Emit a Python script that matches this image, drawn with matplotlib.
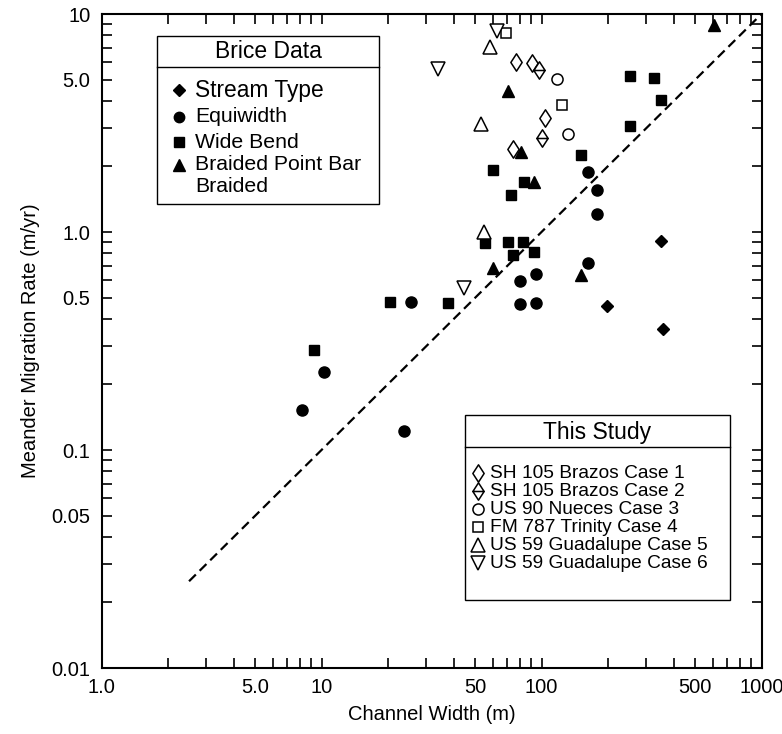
import matplotlib
matplotlib.use("Agg")
import matplotlib.pyplot as plt
from matplotlib.path import Path
from matplotlib.patches import Rectangle
from matplotlib.lines import Line2D
from matplotlib.ticker import FixedLocator, FixedFormatter, NullFormatter

plt.rcParams['font.family'] = ['Liberation Sans', 'DejaVu Sans']

# --- Brice data (filled markers) ---
stream_w = [349, 199, 357]
stream_r = [0.91, 0.458, 0.359]

equi_w = [8.15, 10.3, 23.7, 25.5, 79.9, 94.4, 79.9, 94.4, 179, 163, 163, 179]
equi_r = [0.152, 0.228, 0.122, 0.478, 0.596, 0.642, 0.468, 0.47, 1.21, 0.721, 1.88, 1.56]

wide_w = [9.25, 20.5, 37.6, 55.4, 70.4, 82.4, 74.2, 92.5, 151, 60.2, 83.3, 72.7, 253, 325, 349, 253]
wide_r = [0.288, 0.478, 0.47, 0.891, 0.90, 0.90, 0.784, 0.81, 2.25, 1.92, 1.70, 1.48, 5.2, 5.08, 4.03, 3.06]

braid_w = [60.2, 151, 70.4, 80.7, 92.5, 608]
braid_r = [0.684, 0.635, 4.43, 2.33, 1.70, 8.9]

# --- This study (open markers) ---
case1_w = [76.6, 90.5, 104, 74.2]
case1_r = [6.03, 5.96, 3.33, 2.40]
case2_w = [97.5, 100.5]
case2_r = [5.53, 2.70]
case3_w = [118, 132]
case3_r = [5.04, 2.82]
case4_w = [69, 124]
case4_r = [8.18, 3.83]
case5_w = [58.3, 53.1, 54.8]
case5_r = [7.06, 3.12, 1.0]
case6_w = [62.8, 33.9, 44.4]
case6_r = [8.36, 5.6, 0.553]

line_w = [2.5, 1000]
line_r = [0.025, 10]

brice_labels = ["Stream Type", "Equiwidth", "Wide Bend", "Braided Point Bar", "Braided"]
study_labels = ["SH 105 Brazos Case 1", "SH 105 Brazos Case 2", "US 90 Nueces Case 3",
                "FM 787 Trinity Case 4", "US 59 Guadalupe Case 5", "US 59 Guadalupe Case 6"]

x_ticks = [1, 5, 10, 50, 100, 500, 1000]
x_ticklabels = ["1.0", "5.0", "10", "50", "100", "500", "1000"]
y_ticks = [0.01, 0.05, 0.1, 0.5, 1, 5, 10]
y_ticklabels = ["0.01", "0.05", "0.1", "0.5", "1.0", "5.0", "10"]

# custom thin diamond markers
dia = Path([(0, 1), (0.65, 0), (0, -1), (-0.65, 0), (0, 1)],
           [Path.MOVETO, Path.LINETO, Path.LINETO, Path.LINETO, Path.CLOSEPOLY])
dia_line = Path([(0, 1), (0.65, 0), (0, -1), (-0.65, 0), (0, 1), (-0.65, 0), (0.65, 0)],
                [Path.MOVETO, Path.LINETO, Path.LINETO, Path.LINETO, Path.CLOSEPOLY,
                 Path.MOVETO, Path.LINETO])

W, H = 782, 734
fig = plt.figure(figsize=(W / 100, H / 100), dpi=100)
ax = fig.add_axes([101.5 / W, (H - 668) / H, 660 / W, 654 / H])

filled = dict(ls='none', color='black')
ax.plot(stream_w, stream_r, marker='D', ms=6.3, **filled)
ax.plot(equi_w, equi_r, marker='o', ms=8, **filled)
ax.plot(wide_w, wide_r, marker='s', ms=7.2, **filled)
ax.plot(braid_w, braid_r, marker='^', ms=8.6, **filled)

opn = dict(ls='none', mfc='white', mec='black', mew=1.1)
ax.plot(case1_w, case1_r, marker=dia, ms=12.5, **opn)
ax.plot(case2_w, case2_r, marker=dia_line, ms=12.5, **opn)
ax.plot(case3_w, case3_r, marker='o', ms=8, **opn)
ax.plot(case4_w, case4_r, marker='s', ms=7.8, **opn)
ax.plot(case5_w, case5_r, marker='^', ms=10, **opn)
ax.plot(case6_w, case6_r, marker='v', ms=10, **opn)

# 1:100 reference line
ax.plot(line_w, line_r, color='black', lw=1.6, ls=(0, (4.3, 2.4)))

ax.set_xscale('log')
ax.set_yscale('log')
ax.set_xlim(1, 1000)
ax.set_ylim(0.01, 10)

minor = [m * 10.0 ** e for e in range(-2, 3) for m in range(2, 10)]
ax.xaxis.set_major_locator(FixedLocator(x_ticks))
ax.xaxis.set_major_formatter(FixedFormatter(x_ticklabels))
ax.xaxis.set_minor_locator(FixedLocator([v for v in minor if 1 < v < 1000 and v not in x_ticks]))
ax.xaxis.set_minor_formatter(NullFormatter())
ax.yaxis.set_major_locator(FixedLocator(y_ticks))
ax.yaxis.set_major_formatter(FixedFormatter(y_ticklabels))
ax.yaxis.set_minor_locator(FixedLocator([v for v in minor if 0.01 < v < 10 and v not in y_ticks]))
ax.yaxis.set_minor_formatter(NullFormatter())

ax.tick_params(which='both', direction='in', top=True, right=True, length=7, width=1.2,
               labelsize=14.5)
ax.tick_params(axis='x', pad=7)
ax.tick_params(axis='y', pad=8)
for s in ax.spines.values():
    s.set_linewidth(1.5)

ax.set_xlabel("Channel Width (m)", fontsize=14.5, labelpad=6)
ax.set_ylabel("Meander Migration Rate (m/yr)", fontsize=14.5, labelpad=8)


def fx(x):
    return x / W


def fy(y):
    return 1 - y / H


def legend_box(x0, y0, x1, y1, ysep, title, tx, ty):
    fig.add_artist(Rectangle((fx(x0), fy(y1)), fx(x1) - fx(x0), fy(y0) - fy(y1),
                             transform=fig.transFigure, fc='white', ec='black', lw=1.0))
    fig.add_artist(Line2D([fx(x0), fx(x1)], [fy(ysep), fy(ysep)],
                          transform=fig.transFigure, color='black', lw=1.0))
    fig.text(fx(tx), fy(ty), title, fontsize=16.5, ha='center', va='center')


# Brice Data legend
legend_box(157, 36, 379, 204, 67, "Brice Data", 268, 52)
brice_rows = [90, 117, 142, 165, 187]
brice_marks = [('D', 6.0), ('o', 7.5), ('s', 6.8), ('^', 8.6), (None, 0)]
brice_sizes = [16.4, 15.3, 15.3, 15.3, 15.3]
for lab, yy, (m, ms), fs in zip(brice_labels, brice_rows, brice_marks, brice_sizes):
    if m:
        fig.add_artist(Line2D([fx(179)], [fy(yy)], transform=fig.transFigure,
                              marker=m, ms=ms, color='black', ls='none'))
    fig.text(fx(195), fy(yy), lab, fontsize=fs, ha='left', va='center')

# This Study legend
legend_box(465, 415, 730, 600, 447, "This Study", 597, 433)
study_rows = [473, 491, 509, 527, 545, 563]
study_marks = [(dia, 12.5), (dia_line, 12.5), ('o', 8), ('s', 7.8), ('^', 10), ('v', 10)]
for lab, yy, (m, ms) in zip(study_labels, study_rows, study_marks):
    fig.add_artist(Line2D([fx(478)], [fy(yy)], transform=fig.transFigure, marker=m, ms=ms,
                          mfc='white', mec='black', mew=1.1, ls='none'))
    fig.text(fx(490), fy(yy), lab, fontsize=13.8, ha='left', va='center')

fig.savefig("out.png", dpi=100)
